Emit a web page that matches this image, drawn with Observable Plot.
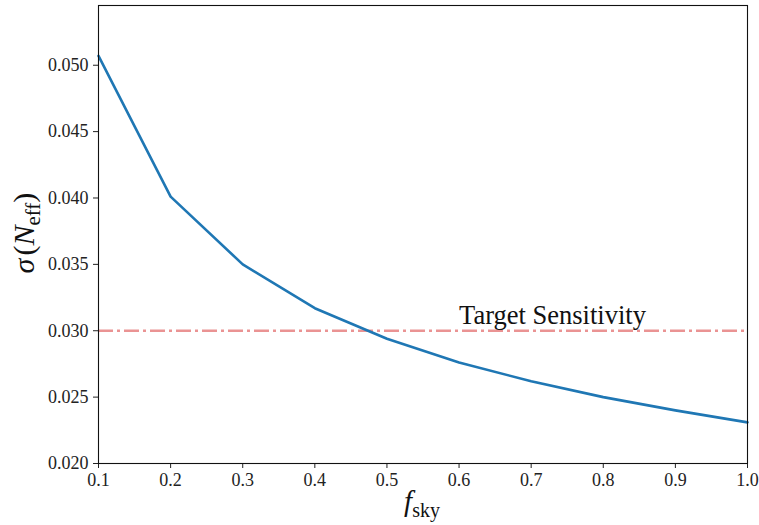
<!DOCTYPE html>
<html><head><meta charset="utf-8">
<script src="https://cdn.jsdelivr.net/npm/d3@7"></script>
<script src="https://cdn.jsdelivr.net/npm/@observablehq/plot@0.6"></script>
<style>
body{margin:0;background:#fff;}
</style>
</head><body>
<div id="chart"></div>
<script>
const fsky = [0.1,0.2,0.3,0.4,0.5,0.6,0.7,0.8,0.9,1.0];
const sigma = [0.0507,0.0401,0.0350,0.0317,0.0294,0.0276,0.0262,0.0250,0.0240,0.0231];
const target = 0.030;
const targetLabel = "Target Sensitivity";
const xTicks = [0.1,0.2,0.3,0.4,0.5,0.6,0.7,0.8,0.9,1.0];
const yTicks = [0.020,0.025,0.030,0.035,0.040,0.045,0.050];

const data = fsky.map((f,i)=>({f, s: sigma[i]}));
const FONT = "'Liberation Serif', 'DejaVu Serif', serif";

const plot = Plot.plot({
  width: 759, height: 525,
  marginLeft: 98, marginRight: 12, marginTop: 5, marginBottom: 62,
  style: {fontSize: "18px", color: "#222", background: "#fff"},
  x: {domain: [0.1, 1.0], ticks: xTicks, tickFormat: d3.format(".1f"), label: null, tickSize: 5, tickPadding: 5},
  y: {domain: [0.020, 0.0545], ticks: yTicks, tickFormat: d3.format(".3f"), label: null, tickSize: 5, tickPadding: 5},
  marks: [
    Plot.ruleY([target], {stroke: "#ea9393", strokeWidth: 2.5, strokeDasharray: "15,4,3,4"}),
    Plot.line(data, {x: "f", y: "s", stroke: "#1f77b4", strokeWidth: 2.6}),
    Plot.text([{x: 0.6, y: 0.0305}], {x: "x", y: "y", text: () => targetLabel, textAnchor: "start", lineAnchor: "bottom", fontSize: 26.5, fill: "#111"}),
    Plot.frame({stroke: "#111", strokeWidth: 1.1})
  ]
});
document.getElementById("chart").appendChild(plot);

const svg = d3.select(plot);
// x label: f_sky
const xl = svg.append("text").attr("x", 422).attr("y", 511).attr("text-anchor", "middle")
  .attr("font-size", 29).attr("fill", "#111");
xl.append("tspan").attr("font-style", "italic").text("f");
xl.append("tspan").attr("font-size", 20).attr("dy", 6).text("sky");
// y label: σ(N_eff)
const yl = svg.append("text").attr("transform", "translate(34,233) rotate(-90)").attr("text-anchor", "middle")
  .attr("font-size", 30).attr("fill", "#111");
yl.append("tspan").attr("font-style", "italic").text("σ");
yl.append("tspan").attr("dx", 3).text("(");
yl.append("tspan").attr("font-style", "italic").text("N");
yl.append("tspan").attr("font-size", 21).attr("dy", 6).text("eff");
yl.append("tspan").attr("dy", -6).text(")");
svg.style("font-family", FONT);
svg.selectAll("text").style("font-family", FONT);
svg.selectAll("g[aria-label$='tick label']").style("font-family", FONT).style("font-variant", "normal");
</script>
</body></html>
